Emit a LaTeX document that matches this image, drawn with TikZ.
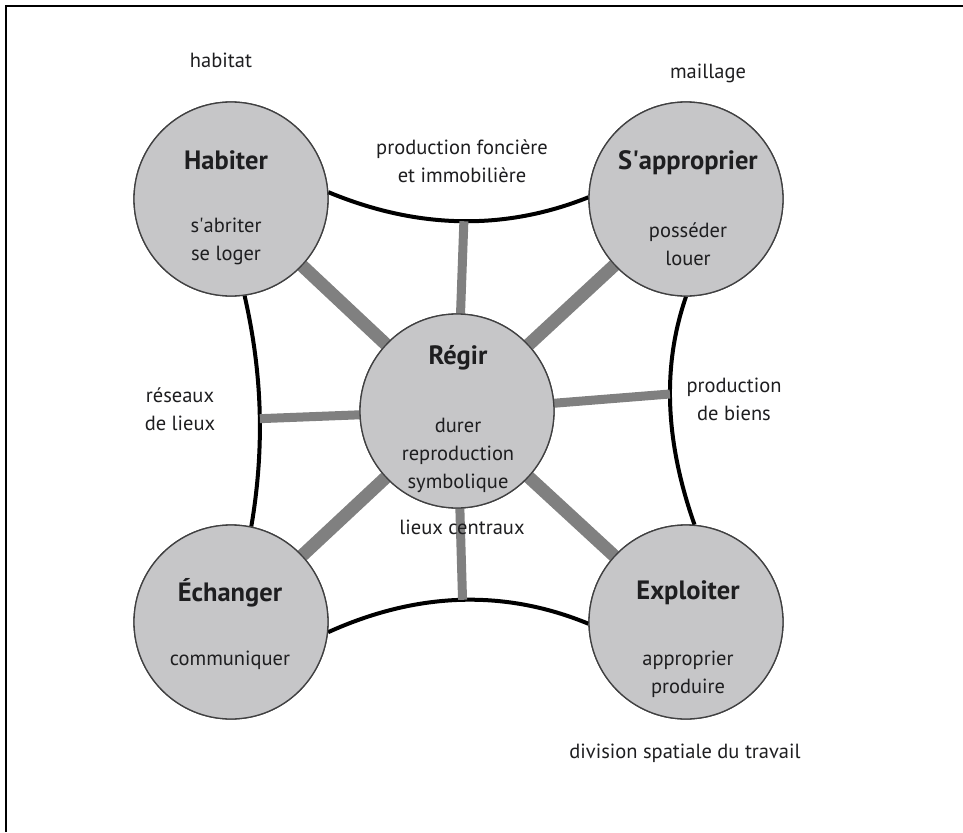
\documentclass[tikz,border=0pt]{standalone}
\usepackage{fontspec}
\setmainfont{PT Sans}
\definecolor{poleFill}{RGB}{198,198,200}
\definecolor{spokeGray}{RGB}{128,128,128}
\definecolor{inkDark}{RGB}{30,30,32}
\tikzset{
	pole/.style={circle, draw=inkDark!85, line width=1.3pt, fill=poleFill, minimum size=194pt, inner sep=0pt},
	title/.style={font=\fontsize{26.5}{28}\selectfont\bfseries, text=inkDark},
	body/.style={font=\fontsize{20.5}{28}\selectfont, text=inkDark, align=center},
	bigspoke/.style={spokeGray, line width=13pt},
	smallspoke/.style={spokeGray, line width=9pt},
	bond/.style={black, line width=4pt}
}
\begin{document}
\begin{tikzpicture}[x=1pt,y=-1pt]
	\useasboundingbox (0,0) rectangle (963,832);
	\coordinate (FrameTL) at (6,6);
	\coordinate (FrameTR) at (963,6);
	\coordinate (FrameBL) at (6,832);
	\draw [line width=2pt] (FrameBL) -- (FrameTL) -- (FrameTR) ;% Draw frame
	
	\coordinate (HabiterC)  at (231,199);
	\coordinate (SappC)     at (686,199);
	\coordinate (RegirC)    at (457,411);
	\coordinate (EchangerC) at (231,622);
	\coordinate (ExploitC)  at (686,622);
	
	% the poles, empty for now, so the arcs can use their borders
	\node [pole] (Habiter)  at (HabiterC) {};
	\node [pole] (Sapp)     at (SappC) {};
	\node [pole] (Regir)    at (RegirC) {};
	\node [pole] (Echanger) at (EchangerC) {};
	\node [pole] (Exploit)  at (ExploitC) {};
	
	\draw [bond] (Habiter.4) .. controls (417,229) and (504,231) .. (Sapp.179) coordinate[pos=0.515] (TopMid);
	\draw [bond] (Habiter.-82) .. controls (262,372) and (265,446) .. (Echanger.78) coordinate[pos=0.54] (LeftMid);
	\draw [bond] (Sapp.-90) .. controls (662,366) and (665,441) .. (Exploit.85) coordinate[pos=0.45] (RightMid);
	\draw [bond] (Echanger.-6) .. controls (417,592) and (504,589) .. (Exploit.181) coordinate[pos=0.51] (BotMid);
	
	\draw [smallspoke] (TopMid) -- (RegirC);
	\draw [smallspoke] (LeftMid) -- (RegirC);
	\draw [smallspoke] (RightMid) -- (RegirC);
	\draw [smallspoke] (BotMid) -- (RegirC);
	\draw [bigspoke] (HabiterC) -- (RegirC);
	\draw [bigspoke] (SappC) -- (RegirC);
	\draw [bigspoke] (EchangerC) -- (RegirC);
	\draw [bigspoke] (ExploitC) -- (RegirC);
	
	% poles again on top of the spokes
	\node [pole] at (HabiterC) {};
	\node [pole] at (SappC) {};
	\node [pole] at (RegirC) {};
	\node [pole] at (EchangerC) {};
	\node [pole] at (ExploitC) {};
	
	\node [title] (HabiterT)  at (226,160) {Habiter};
	\node [body]  (HabiterS)  at (226,241) {s\textquotesingle abriter\\se loger};
	\node [title] (SappT)     at (688,163) {S\textquotesingle approprier};
	\node [body]  (SappS)     at (688,244) {posséder\\louer};
	\node [title] (RegirT)    at (458,358) {Régir};
	\node [body]  (RegirS)    at (458,455) {durer\\reproduction\\symbolique};
	\node [title] (EchangerT) at (230,593) {Échanger};
	\node [body]  (EchangerS) at (230,660) {communiquer};
	\node [title] (ExploitT)  at (688,593) {Exploiter};
	\node [body]  (ExploitS)  at (688,674) {approprier\\produire};
	
	\node [body] (Habitat)   at (221,60)  {habitat};
	\node [body] (Maillage)  at (708,73)  {maillage};
	\node [body] (Fonciere)  at (462,161) {production foncière\\et immobilière};
	\node [body] (Reseaux)   at (180,409) {réseaux\\de lieux};
	\node [body] (Biens)     at (734,399) {production\\de biens};
	\node [body] (Centraux)  at (462,527) {lieux centraux};
	\node [body] (Division)  at (685,753) {division spatiale du travail};
\end{tikzpicture}
\end{document}
